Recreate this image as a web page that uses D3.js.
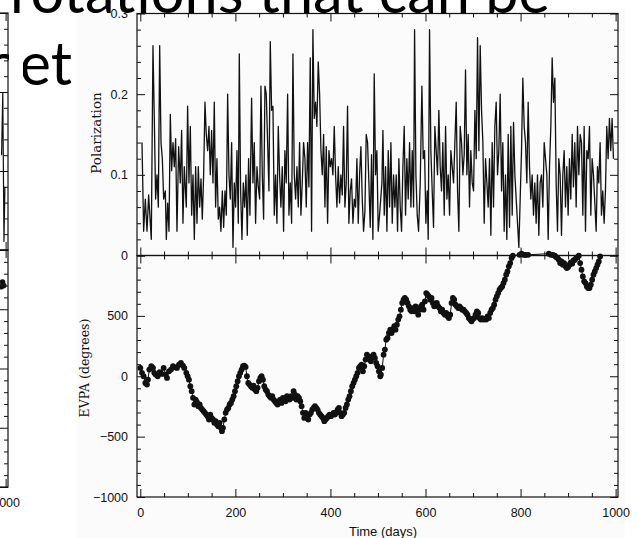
<!DOCTYPE html>
<html><head><meta charset="utf-8">
<script src="https://cdn.jsdelivr.net/npm/d3@7"></script>
<style>html,body{margin:0;padding:0;background:#fff;overflow:hidden}</style></head>
<body><svg id="c" width="639" height="538"></svg>
<script>
// ---------------- data ----------------
const titleLines = ["rotations that can be", "planet"];
const xTicks = [0, 200, 400, 600, 800, 1000];
const polTicks = [0, 0.1, 0.2, 0.3];
const evpaTicks = [-1000, -500, 0, 500];
const xLabel = "Time (days)";
const polLabel = "Polarization";
const evpaLabel = "EVPA (degrees)";

// [day, polarization]
const polarization = [
[3.5,.14],[7,.03],[10.5,.07],[14,.03],[17.5,.075],[21,.04],[23.1,.02],[26.6,.26],[29.4,.17],[32.2,.07],[35.1,.1],[37.9,.06],[40.7,.26],[43.5,.14],[46.3,.12],[49.1,.07],[52.6,.08],[54.7,.02],[57.5,.065],[60.3,.03],[63.1,.175],[65.9,.105],[68.7,.14],[71.5,.11],[74.3,.145],[77.1,.03],[80.6,.135],[84.1,.09],[86.9,.155],[89.7,.04],[92.5,.11],[96.7,.06],[99.5,.185],[102.3,.09],[105.2,.16],[108,.05],[110.8,.1],[113.6,.02],[116.4,.11],[119.2,.04],[122,.11],[124.8,.06],[127.6,.095],[130.4,.045],[133.2,.1],[136,.19],[138.8,.15],[141.6,.13],[144.4,.16],[147.2,.1],[150,.155],[152.8,.09],[155.6,.19],[158.4,.06],[161.2,.12],[164,.045],[166.8,.06],[169.6,.03],[172.5,.08],[175.3,.035],[178.1,.08],[180.9,.05],[183.7,.2],[186.5,.1],[189.3,.07],[192.1,.14],[194.9,.01],[197.7,.09],[200.5,.06],[203.3,.13],[206.1,.04],[208.2,.25],[211,.08],[213.8,.02],[216.6,.09],[219.4,.06],[222.2,.1],[225,.025],[227.8,.12],[230.6,.05],[234.1,.195],[236.9,.09],[239.7,.14],[242.5,.04],[245.4,.11],[248.2,.085],[251,.07],[253.8,.21],[256.6,.1],[259.4,.045],[262.2,.21],[265,.2],[267.8,.14],[270.6,.08],[273.4,.265],[276.2,.18],[279,.185],[281.8,.05],[284.6,.1],[287.4,.04],[290.2,.16],[293,.1],[295.8,.06],[298.6,.11],[301.4,.03],[304.2,.13],[307,.09],[309.9,.2],[312.7,.05],[315.5,.09],[318.3,.04],[321.1,.25],[323.9,.1],[326.7,.07],[329.5,.11],[332.3,.06],[335.1,.14],[337.9,.05],[340.7,.09],[343.5,.14],[346.3,.12],[349.1,.06],[351.9,.14],[354.7,.085],[357.5,.245],[360.3,.03],[363.1,.28],[365.9,.17],[368.7,.19],[371.5,.16],[374.3,.24],[377.2,.2],[380,.13],[382.8,.1],[385.6,.15],[388.4,.06],[391.2,.135],[394,.04],[396.8,.13],[399.6,.11],[402.4,.12],[405.2,.1],[408,.16],[410.8,.1],[413.6,.06],[416.4,.11],[419.2,.065],[422,.1],[424.8,.075],[427.6,.16],[430.4,.06],[433.2,.09],[436,.185],[438.8,.04],[441.6,.08],[444.4,.095],[447.3,.04],[450.1,.07],[452.9,.06],[455.7,.12],[458.5,.04],[461.3,.1],[464.1,.135],[466.9,.07],[469.7,.03],[472.5,.055],[475.3,.15],[478.1,.14],[480.9,.09],[483.7,.035],[486.5,.125],[489.3,.02],[492.1,.225],[494.9,.1],[497.7,.13],[500.5,.03],[503.3,.05],
[508.3,.09],[510.4,.155],[513.2,.05],[516,.11],[518.8,.03],[521.6,.13],[524.4,.06],[527.2,.14],[530,.04],[532.8,.1],[535.6,.06],[538.4,.1],[541.2,.03],[544,.12],[546.8,.06],[549.6,.03],[552.4,.11],[555.2,.16],[558,.05],[560.8,.12],[563.6,.07],[566.5,.14],[569.3,.06],[572.1,.13],[574.9,.06],[577,.28],[579.8,.1],[582.6,.05],[585.4,.03],[588.9,.09],[592.4,.21],[595.2,.12],[598,.13],[600.8,.04],[603.6,.08],[605.7,.02],[608.5,.28],[611.3,.13],[614.1,.08],[616.9,.035],[619.7,.16],[622.5,.13],[625.3,.1],[628.1,.18],[630.9,.11],[633.7,.08],[636.5,.14],[639.4,.05],[642.2,.16],[645,.07],[647.8,.1],[650.6,.05],[653.4,.13],[656.2,.11],[659,.09],[661.8,.14],[664.6,.19],[667.4,.08],[670.2,.03],[673,.16],[675.8,.14],[678.6,.1],[681.4,.125],[684.2,.23],[687,.1],[689.8,.15],[692.6,.06],[695.4,.13],[698.3,.09],[701.1,.08],[703.9,.18],[706.7,.12],[709.5,.27],[712.3,.13],[715.1,.26],[717.9,.18],[720.7,.14],[723.5,.04],[726.3,.12],[729.1,.09],[731.9,.06],[734.7,.12],[737.5,.025],[740.3,.14],[743.1,.06],[745.9,.16],[748.7,.19],[751.5,.1],[754.3,.13],[757.1,.2],[760,.08],[762.7,.14],[765.5,.03],[768.3,.1],[771.1,.02],[774,.15],[776.8,.035],[779.6,.16],[782.4,.05],[785.2,.165],[788,.1],[790.8,.07],[793.6,.04],[796.4,.01],[799.2,.07],[802,.13],[804.8,.22],[807.6,.16],[810.4,.14],[813.2,.09],[816,.19],[818.8,.11],[821.6,.07],[824.4,.1],[827.2,.05],[830,.09],[832.8,.04],[835.6,.1],[838.4,.025],[841.2,.09],[844,.1],[846.9,.06],[849.7,.14],[852.5,.12],[855.3,.1],[858.1,.02],[860.9,.11],[863.7,.16],[866.5,.245],[869.3,.19],[872.1,.22],[874.9,.09],[877.7,.03],[880.5,.12],[883.3,.1],[886.1,.025],[888.9,.1],[891.7,.13],[894.5,.06],[897.3,.11],[900.1,.05],[902.9,.12],[905.7,.07],[908.6,.15],[911.3,.085],[914.2,.14],[917,.06],[919.8,.16],[922.6,.1],[925.4,.15],[928.2,.14],[931,.05],[933.8,.16],[936.6,.03],[939.4,.13],[942.2,.12],[945,.16],[947.8,.05],[950.6,.12],[953.4,.1],[956.2,.065],[959,.03],[961.8,.11],[964.6,.09],[967.4,.14],[970.2,.05],[973,.08],[975.8,.04],[978.6,.08],[981.4,.16],[984.2,.12],[987,.17],[989.8,.13],[992.6,.17],[995.4,.12]
];

// [day, EVPA degrees]
const evpa = [
[0,69],[3.5,28],[7,0],[10.5,-55],[14,-69],[16.1,-28],[18.9,55],[23.1,83],[26.6,69],[29.4,28],[32.2,14],[36.5,0],[40.7,33],[44.9,19],[49.1,69],[53.3,14],[56.1,-14],[60.3,41],[64.5,55],[68.7,83],[72.9,74],[77.1,69],[81.3,96],[85.5,110],[89.7,88],[92.5,69],[96.7,28],[99.5,0],[102.3,-28],[105.2,-83],[108,-124],[110.8,-179],[113.6,-234],[116.4,-193],[119.2,-215],[122,-248],[124.8,-234],[127.6,-262],[130.4,-276],[133.2,-289],[136,-303],[138.8,-317],[141.6,-331],[144.4,-358],[147.2,-317],[150,-345],[152.8,-358],[155.6,-386],[158.4,-372],[161.2,-400],[164,-414],[166.8,-386],[169.6,-427],[171.7,-455],[173.9,-427],[176.7,-358],[179.5,-303],[182.3,-276],[185.1,-262],[187.9,-234],[190.7,-221],[193.5,-193],[196.3,-165],[199.1,-124],[201.9,-83],[204.7,-41],[207.5,0],[210.3,28],[213.1,55],[215.9,83],[218.7,88],[221.5,77],[224.3,0],[227.1,-55],[229.9,-69],[232.7,-83],[235.5,-96],[238.3,-77],[241.2,-110],[244,-124],[246.8,-96],[249.6,-41],[252.4,-14],[255.2,0],[258,-28],[260.8,-83],[263.6,-110],[266.4,-124],[269.2,-152],[272,-165],[274.8,-179],[277.6,-165],[280.4,-193],[283.2,-207],[286,-221],[288.8,-234],[291.6,-207],[294.4,-193],[297.2,-221],[300,-179],[302.8,-193],[305.6,-207],[308.4,-165],[311.3,-179],[314.1,-193],[316.9,-165],[319.7,-179],[322.5,-124],[325.3,-152],[328.1,-193],[330.9,-165],[333.7,-179],[336.5,-207],[339.3,-248],[342.1,-303],[344.9,-345],[347.7,-303],[350.5,-331],[353.3,-358],[356.1,-317],[358.9,-303],[361.7,-276],[364.5,-262],[367.3,-248],[370.1,-262],[372.9,-276],[375.7,-303],[378.5,-317],[381.4,-331],[384.2,-345],[387,-372],[389.8,-358],[392.6,-345],[395.4,-331],[398.2,-317],[401,-331],[403.8,-317],[406.6,-303],[409.4,-317],[412.2,-303],[415,-276],[417.8,-262],[420.6,-303],[423.4,-331],[426.2,-317],[429,-303],[431.8,-262],[434.6,-234],[437.4,-193],[440.2,-165],[443,-124],[445.8,-83],[448.6,-55],[451.4,-28],[454.3,0],[457.1,28],[459.9,69],[462.7,83],[465.5,96],[468.3,41],[471.1,83],[473.9,138],[476.7,179],[479.5,165],[482.3,138],[485.1,124],[487.9,165],[490.7,179],[493.5,152],[496.3,110],[499.1,83],[501.9,41],[504.7,0],
[506.2,14],[509,69],[511.8,179],[514.6,221],[517.4,303],[520.2,317],[523,358],[525.8,386],[528.6,358],[531.4,386],[534.2,414],[537,386],[539.8,427],[542.6,469],[545.4,496],[548.2,551],[551,607],[553.8,634],[556.6,648],[559.4,634],[562.2,607],[565,579],[567.9,551],[570.7,538],[573.5,565],[576.3,538],[579.1,579],[581.9,551],[584.7,510],[587.5,551],[590.3,579],[593.1,593],[595.9,551],[598.7,620],[601.5,689],[604.3,675],[607.1,662],[609.9,634],[612.7,648],[615.5,607],[618.3,579],[621.1,593],[623.9,607],[626.7,579],[629.5,565],[632.3,538],[635.1,551],[637.9,524],[640.8,510],[643.6,524],[646.4,496],[649.2,482],[652,510],[654.8,607],[657.6,648],[660.4,634],[663.2,593],[666,579],[668.8,565],[671.6,579],[674.4,565],[677.2,551],[680,551],[682.8,538],[685.6,524],[688.4,510],[691.2,482],[694,469],[696.8,455],[699.6,474],[702.4,482],[705.2,510],[708.1,538],[710.9,524],[713.7,482],[716.5,469],[719.3,482],[722.1,469],[724.9,474],[727.7,469],[730.5,496],[733.3,482],[736.1,524],[738.9,551],[741.7,565],[744.5,593],[747.3,634],[750.1,662],[752.9,689],[755.7,717],[758.5,731],[761.3,744],[764.1,772],[766.9,800],[769.7,841],[772.5,868],[775.3,910],[778.2,937],[781,979],[783.8,998],[797.8,1006],[802,1015],[806.2,1006],[810.4,1004],[816,1006],
[859.5,1015],[863.7,1006],[867.9,1006],[872.1,998],[874.9,987],[877.7,979],[880.5,965],[883.3,937],[886.1,951],[888.9,924],[891.7,937],[894.5,910],[897.3,896],[900.1,904],[902.9,924],[905.7,943],[908.6,932],[911.3,959],[914.2,965],[917,979],[919.8,987],[922.6,998],[925.4,937],[928.2,882],[931,827],[933.8,786],[936.6,772],[939.4,744],[942.2,731],[945,731],[947.8,758],[950.6,800],[953.4,841],[956.2,868],[959,896],[961.8,924],[964.6,951],[967.4,992]
];

// fragment of the neighbouring chart at the left edge
const leftPol = [[991.5,0.12],[994,0.2],[996.5,0.01],[998.5,0.08]];
const leftEvpa = [[991,690],[993.5,730],[996,700]];
const leftXTicks = [1000];

// ---------------- drawing ----------------
const svg = d3.select("#c");
const ink = "#111";

svg.append("rect").attr("x", 0).attr("y", 0).attr("width", 639).attr("height", 538).attr("fill", "#fff");
svg.append("rect").attr("x", 77).attr("y", 11).attr("width", 548).attr("height", 527).attr("fill", "#fbfbfb");

const fontSans = "'Liberation Sans', Arial, Helvetica, sans-serif";
const fontSerif = "'DejaVu Serif', serif";

function frameAxes(g, x, y, opts) {
  const minorX = d3.range(0, 1001, 50).filter(d => d % 200 !== 0);
  const styleAxis = a => {
    a.select(".domain").remove();
    a.selectAll("line").attr("stroke", ink).attr("stroke-width", 1);
    a.selectAll("text").attr("fill", ink).attr("font-family", fontSans).attr("font-size", 12.5);
  };
  const [y0, y1] = y.range();
  const [x0, x1] = x.range();
  [[y1, d3.axisTop], [y0, d3.axisBottom]].forEach(([yy, ax], i) => {
    const labelled = i === 1 && opts.xLabels;
    g.append("g").attr("transform", `translate(0,${yy})`)
      .call(ax(x).tickValues(opts.xMajor).tickSize(-8).tickPadding(11)
        .tickFormat(labelled ? d3.format("d") : () => ""))
      .call(styleAxis);
    g.append("g").attr("transform", `translate(0,${yy})`)
      .call(ax(x).tickValues(minorX).tickSize(-4).tickFormat(() => ""))
      .call(styleAxis);
  });
  [[x0, d3.axisLeft], [x1, d3.axisRight]].forEach(([xx, ax], i) => {
    const labelled = i === 0 && opts.yLabels;
    g.append("g").attr("transform", `translate(${xx},0)`)
      .call(ax(y).tickValues(opts.yMajor).tickSize(-8).tickPadding(9)
        .tickFormat(labelled ? opts.yFormat : () => ""))
      .call(styleAxis);
    g.append("g").attr("transform", `translate(${xx},0)`)
      .call(ax(y).tickValues(opts.yMinor).tickSize(-4).tickFormat(() => ""))
      .call(styleAxis);
  });
  g.append("rect").attr("x", x0).attr("y", y1).attr("width", x1 - x0).attr("height", y0 - y1)
    .attr("fill", "none").attr("stroke", ink).attr("stroke-width", 1.2);
}

const polMinor = d3.range(0, 0.3001, 0.02).filter(d => Math.abs(d * 10 - Math.round(d * 10)) > 1e-6);
const evpaMinor = d3.range(-1000, 1001, 100).filter(d => d % 500 !== 0);
const polFmt = d => d === 0 ? "0" : d3.format(".1f")(d);

// ---- slide title (behind the pictures' foreground marks) ----
const titleFont = "Lato, 'Open Sans', sans-serif";
const t1 = svg.append("text").attr("x", 10).attr("y", 13).attr("font-family", titleFont)
  .attr("font-size", 52).attr("fill", "#000").text(titleLines[0]);
const w = t1.node().getComputedTextLength();
const fs = 52 * 540 / w;
t1.attr("font-size", fs);
svg.append("text").attr("x", 72).attr("y", 85).attr("text-anchor", "end").attr("font-family", titleFont)
  .attr("font-size", fs).attr("fill", "#000").text(titleLines[1]);

// ---- left fragment ----
{
  const g = svg.append("g");
  g.append("rect").attr("x", 9).attr("y", 30).attr("width", 14).attr("height", 480).attr("fill", "#fff");
  const x = d3.scaleLinear().domain([-7, 1005]).range([-473, 8]);
  const yP = d3.scaleLinear().domain([0, 0.3]).range([250, 13]);
  const yE = d3.scaleLinear().domain([-1000, 1000]).range([487, 250]);
  frameAxes(g, x, yP, {xMajor: leftXTicks, yMajor: polTicks, yMinor: polMinor, yFormat: polFmt, xLabels: false, yLabels: false});
  frameAxes(g, x, yE, {xMajor: leftXTicks, yMajor: evpaTicks, yMinor: evpaMinor, yFormat: d3.format("d"), xLabels: true, yLabels: false});
  g.append("path").datum(leftPol).attr("fill", "none").attr("stroke", ink).attr("stroke-width", 1.2)
    .attr("d", d3.line().x(d => x(d[0])).y(d => yP(d[1])));
  g.append("path").datum(leftEvpa).attr("fill", "none").attr("stroke", ink).attr("stroke-width", 1)
    .attr("d", d3.line().x(d => x(d[0])).y(d => yE(d[1])));
  g.selectAll("circle").data(leftEvpa).join("circle")
    .attr("cx", d => x(d[0])).attr("cy", d => yE(d[1])).attr("r", 2.8).attr("fill", ink);
}

// ---- main chart ----
const g = svg.append("g");
const x = d3.scaleLinear().domain([-7, 1005]).range([137, 618]);
const yP = d3.scaleLinear().domain([0, 0.3]).range([255.5, 13.5]);
const yE = d3.scaleLinear().domain([-1000, 1000]).range([497, 255.5]);

g.append("path").datum(polarization).attr("fill", "none").attr("stroke", ink).attr("stroke-width", 1.3)
  .attr("stroke-linejoin", "round")
  .attr("d", d3.line().x(d => x(d[0])).y(d => yP(d[1])));

g.append("path").datum(evpa).attr("fill", "none").attr("stroke", ink).attr("stroke-width", 1)
  .attr("d", d3.line().x(d => x(d[0])).y(d => yE(d[1])));
g.append("g").selectAll("circle").data(evpa).join("circle")
  .attr("cx", d => x(d[0])).attr("cy", d => yE(d[1])).attr("r", 2.9).attr("fill", ink);

frameAxes(g, x, yP, {xMajor: xTicks, yMajor: polTicks, yMinor: polMinor, yFormat: polFmt, xLabels: false, yLabels: true});
frameAxes(g, x, yE, {xMajor: xTicks, yMajor: evpaTicks.concat([1000]), yMinor: evpaMinor, yFormat: d => d === 1000 ? "" : d3.format("d")(d), xLabels: true, yLabels: true});

g.append("text").attr("transform", "translate(101,133) rotate(-90)").attr("text-anchor", "middle")
  .attr("font-family", fontSerif).attr("font-size", 13.5).attr("fill", ink).text(polLabel);
g.append("text").attr("transform", "translate(89,368) rotate(-90)").attr("text-anchor", "middle")
  .attr("font-family", fontSerif).attr("font-size", 12.5).attr("fill", ink).text(evpaLabel);
g.append("text").attr("x", 383).attr("y", 536).attr("text-anchor", "middle")
  .attr("font-family", fontSans).attr("font-size", 13).attr("fill", ink).text(xLabel);

// title first line stays on top of the plot, as in the slide
svg.node().appendChild(t1.node());
</script></body></html>
